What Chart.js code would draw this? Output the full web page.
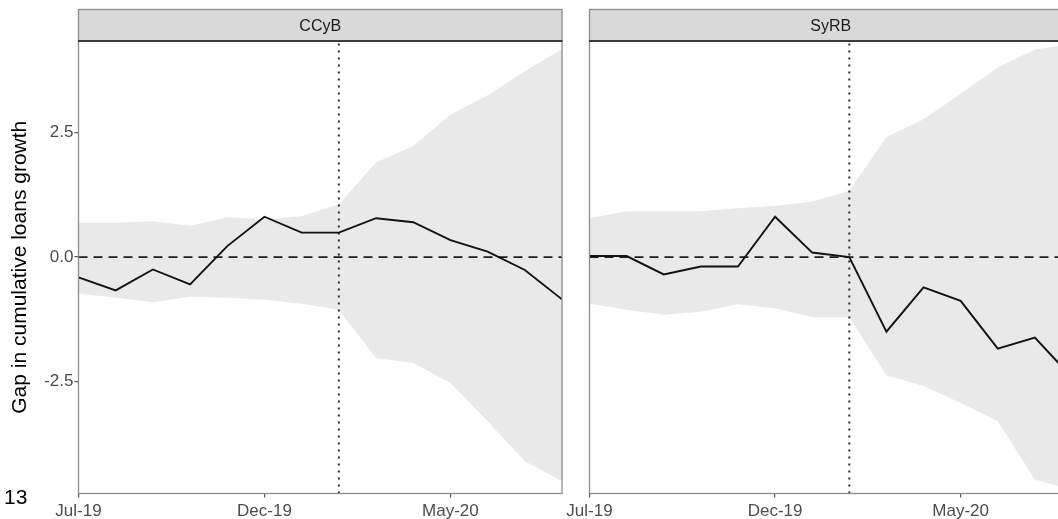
<!DOCTYPE html>
<html>
<head>
<meta charset="utf-8">
<script src="https://cdn.jsdelivr.net/npm/chart.js"></script>
<style>
  html, body { margin: 0; padding: 0; background: #fff; overflow: hidden; }
  #wrap { position: relative; width: 1058px; height: 519px; overflow: hidden; }
  canvas { position: absolute; top: 0; }
  #ccyb { left: 0; }
  #syrb { left: 540px; }
  #page { position: absolute; left: 4px; top: 485px; font: 21px "Liberation Sans", Arial, sans-serif; color: #000; }
</style>
</head>
<body>
<div id="wrap">
  <canvas id="ccyb" width="575" height="519"></canvas>
  <canvas id="syrb" width="560" height="519"></canvas>
  <div id="page">13</div>
</div>
<script>
var months = ['Jul-19', 'Aug-19', 'Sep-19', 'Oct-19', 'Nov-19', 'Dec-19', 'Jan-20',
              'Feb-20', 'Mar-20', 'Apr-20', 'May-20', 'Jun-20', 'Jul-20', 'Aug-20'];

var ccybGap   = [-0.41, -0.67, -0.25, -0.55, 0.22, 0.81, 0.49, 0.49, 0.78, 0.70, 0.34, 0.11, -0.26, -0.85];
var ccybUpper = [0.69, 0.69, 0.72, 0.63, 0.80, 0.76, 0.82, 1.06, 1.90, 2.23, 2.86, 3.25, 3.73, 4.18];
var ccybLower = [-0.73, -0.82, -0.91, -0.80, -0.82, -0.86, -0.94, -1.06, -2.03, -2.13, -2.53, -3.30, -4.10, -4.50];

var syrbGap   = [0.02, 0.02, -0.35, -0.19, -0.19, 0.81, 0.09, 0.00, -1.50, -0.61, -0.88, -1.84, -1.62, -2.42];
var syrbUpper = [0.78, 0.92, 0.92, 0.92, 0.98, 1.03, 1.11, 1.33, 2.41, 2.77, 3.28, 3.81, 4.17, 4.28];
var syrbLower = [-0.94, -1.06, -1.16, -1.10, -0.95, -1.03, -1.21, -1.21, -2.38, -2.59, -2.93, -3.30, -4.47, -4.68];

var policyMonth = 'Feb-20';
var xTickLabels = ['Jul-19', 'Dec-19', 'May-20'];
var yTickValues = [-2.5, 0, 2.5];
var yMin = -4.75, yMax = 4.34;

var FONT = '"Liberation Sans", Arial, sans-serif';
Chart.defaults.font.family = FONT;

function points(values) {
  return values.map(function (v, i) { return { x: i, y: v }; });
}

// ggplot-style facet strip and panel border
var facetPlugin = {
  id: 'facet',
  afterDraw: function (chart, args, opts) {
    var ctx = chart.ctx, a = chart.chartArea;
    var stripTop = 9.5;
    ctx.save();
    ctx.fillStyle = '#d9d9d9';
    ctx.fillRect(a.left, stripTop, a.right - a.left, a.top - stripTop);
    ctx.strokeStyle = '#8c8c8c';
    ctx.lineWidth = 1.3;
    ctx.strokeRect(a.left, stripTop, a.right - a.left, a.top - stripTop);
    ctx.strokeRect(a.left, a.top, a.right - a.left, a.bottom - a.top);
    ctx.strokeStyle = '#3c3c3c';
    ctx.lineWidth = 2;
    ctx.beginPath();
    ctx.moveTo(a.left - 0.5, a.top);
    ctx.lineTo(a.right + 0.5, a.top);
    ctx.stroke();
    ctx.fillStyle = '#1a1a1a';
    ctx.font = '16px ' + FONT;
    ctx.textAlign = 'center';
    ctx.textBaseline = 'middle';
    ctx.fillText(opts.label, (a.left + a.right) / 2, (stripTop + a.top) / 2 + 1);
    ctx.restore();
  }
};

function makeChart(id, label, gap, upper, lower, cfg) {
  var last = months.length - 1;
  var vx = months.indexOf(policyMonth);
  return new Chart(document.getElementById(id), {
    type: 'line',
    plugins: [facetPlugin],
    data: {
      datasets: [
        { data: points(upper), fill: '+1', backgroundColor: '#e9e9e9', borderWidth: 0, pointRadius: 0, order: 4 },
        { data: points(lower), fill: false, borderWidth: 0, pointRadius: 0, order: 4 },
        { data: [{ x: 0, y: 0 }, { x: last, y: 0 }], borderColor: '#1e1e1e', borderWidth: 1.8,
          borderDash: [9, 6], pointRadius: 0, fill: false, order: 2 },
        { data: [{ x: vx, y: yMin }, { x: vx, y: yMax }], borderColor: '#2a2a2a', borderWidth: 2,
          borderDash: [2, 5], pointRadius: 0, fill: false, order: 3 },
        { data: points(gap), borderColor: '#111', borderWidth: 1.9, pointRadius: 0, fill: false,
          tension: 0, order: 1 }
      ]
    },
    options: {
      responsive: false,
      animation: false,
      events: [],
      layout: { padding: { top: 41, right: cfg.padRight, left: 0, bottom: 0 } },
      plugins: {
        legend: { display: false },
        tooltip: { enabled: false },
        facet: { label: label }
      },
      scales: {
        x: {
          type: 'linear',
          min: 0,
          max: last,
          afterBuildTicks: function (s) {
            s.ticks = xTickLabels.map(function (l) { return { value: months.indexOf(l) }; });
          },
          afterFit: function (s) { s.height = 25.5; },
          grid: { drawOnChartArea: false, drawTicks: true, tickLength: 4, color: '#555', lineWidth: 1.2 },
          border: { display: false },
          ticks: {
            padding: 4,
            maxRotation: 0,
            autoSkip: false,
            color: '#4d4d4d',
            font: { size: 17 },
            callback: function (v) { return months[v]; }
          }
        },
        y: {
          min: yMin,
          max: yMax,
          afterBuildTicks: function (s) {
            s.ticks = yTickValues.map(function (v) { return { value: v }; });
          },
          afterFit: function (s) { s.width = cfg.yWidth; },
          grid: { display: cfg.showY, drawOnChartArea: false, drawTicks: true, tickLength: 4, color: '#555', lineWidth: 1.2 },
          border: { display: false },
          title: {
            display: cfg.showY,
            text: 'Gap in cumulative loans growth',
            color: '#000',
            font: { size: 21 },
            padding: { top: 8, bottom: 0 }
          },
          ticks: {
            display: cfg.showY,
            padding: 1,
            color: '#4d4d4d',
            font: { size: 17 },
            callback: function (v) { return v.toFixed(1); }
          }
        }
      }
    }
  });
}

makeChart('ccyb', 'CCyB', ccybGap, ccybUpper, ccybLower, { yWidth: 78.5, padRight: 13, showY: true });
makeChart('syrb', 'SyRB', syrbGap, syrbUpper, syrbLower, { yWidth: 49.5, padRight: 28, showY: false });
</script>
</body>
</html>
